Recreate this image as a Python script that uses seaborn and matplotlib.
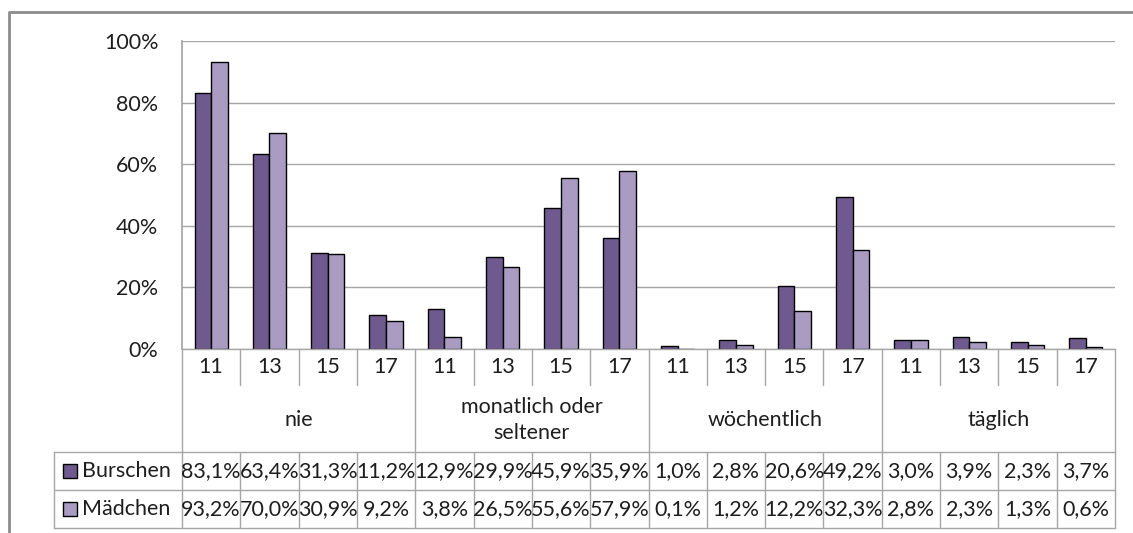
import matplotlib
matplotlib.use("Agg")
import matplotlib.pyplot as plt
import pandas as pd
import seaborn as sns
from matplotlib.lines import Line2D
from matplotlib.patches import Rectangle

# data
groups = ["nie", "monatlich oder\nseltener", "wöchentlich", "täglich"]
ages = ["11", "13", "15", "17"]
series = ["Burschen", "Mädchen"]
burschen = [83.1, 63.4, 31.3, 11.2, 12.9, 29.9, 45.9, 35.9,
            1.0, 2.8, 20.6, 49.2, 3.0, 3.9, 2.3, 3.7]
maedchen = [93.2, 70.0, 30.9, 9.2, 3.8, 26.5, 55.6, 57.9,
            0.1, 1.2, 12.2, 32.3, 2.8, 2.3, 1.3, 0.6]
colors = ["#6e5a8e", "#a99bc1"]

W, H = 1133, 533
sns.set_theme(style="white")
plt.rcParams["font.family"] = ["Lato", "DejaVu Sans"]
TXT = "#1e1e1e"
GRID = "#a6a6a6"
FS = 15.5

cats = [f"{g}|{a}" for g in groups for a in ages]
df = pd.DataFrame({
    "cat": cats * 2,
    "gender": [series[0]] * len(cats) + [series[1]] * len(cats),
    "value": [v / 100 for v in burschen + maedchen],
})


def fx(px):
    return px / W


def fy(py):
    return 1 - py / H


fig = plt.figure(figsize=(W / 100, H / 100), dpi=100)
left, right, top, bottom = 182, 1115, 41, 349
ax = fig.add_axes([fx(left), fy(bottom), fx(right - left), (bottom - top) / H])

sns.barplot(data=df, x="cat", y="value", hue="gender", order=cats,
            hue_order=series, palette=colors, width=0.57, saturation=1,
            edgecolor="black", linewidth=1, legend=False, ax=ax)

ax.set_ylim(0, 1)
ax.set_xlim(-0.5, len(cats) - 0.5)
ax.set_yticks([0, 0.2, 0.4, 0.6, 0.8, 1.0])
ax.set_yticklabels(["0%", "20%", "40%", "60%", "80%", "100%"], fontsize=FS, color=TXT)
ax.tick_params(axis="y", length=0, pad=17)
ax.set_xticks([])
ax.set_xlabel("")
ax.set_ylabel("")
ax.yaxis.grid(True, color=GRID, linewidth=1)
ax.set_axisbelow(True)
for side in ["top", "right", "bottom"]:
    ax.spines[side].set_visible(False)
ax.spines["left"].set_color(GRID)

# category axis and data table drawn below the plot
n = len(cats)
cw = (right - left) / n
xs = [left + i * cw for i in range(n + 1)]
tick_bot, grp_bot, row1, row2 = 385, 452, 490, 528
tbl_left = 54


def hline(x0, x1, y, c=GRID):
    fig.add_artist(Line2D([fx(x0), fx(x1)], [fy(y), fy(y)], color=c, lw=1))


def vline(x, y0, y1, c=GRID):
    fig.add_artist(Line2D([fx(x), fx(x)], [fy(y0), fy(y1)], color=c, lw=1))


hline(left, right, bottom)
for i, x in enumerate(xs):
    if i % 4 == 0:
        vline(x, bottom, row2)
    else:
        vline(x, bottom, tick_bot)
        vline(x, grp_bot, row2)
vline(tbl_left, grp_bot, row2)
for y in (grp_bot, row1, row2):
    hline(tbl_left, right, y)

for i in range(n):
    cx = (xs[i] + xs[i + 1]) / 2
    fig.text(fx(cx), fy(367), ages[i % 4], ha="center", va="center",
             fontsize=FS, color=TXT)
for j, g in enumerate(groups):
    cx = (xs[4 * j] + xs[4 * j + 4]) / 2
    fig.text(fx(cx), fy(420), g, ha="center", va="center", fontsize=FS,
             color=TXT, linespacing=1.4)

for r, (name, vals, col) in enumerate(zip(series, [burschen, maedchen], colors)):
    y0 = [grp_bot, row1][r]
    cy = y0 + (row1 - grp_bot) / 2
    fig.add_artist(Rectangle((fx(63), fy(cy + 7)), fx(14), 14 / H,
                             facecolor=col, edgecolor="black", lw=1))
    fig.text(fx(82), fy(cy), name, ha="left", va="center", fontsize=FS, color=TXT)
    for i, v in enumerate(vals):
        cx = (xs[i] + xs[i + 1]) / 2
        fig.text(fx(cx), fy(cy), f"{v:.1f}%".replace(".", ","), ha="center",
                 va="center", fontsize=FS, color=TXT)

# outer chart border
fig.add_artist(Line2D([fx(9), fx(9), fx(W + 5)], [fy(H + 5), fy(12), fy(12)],
                      color="#8c8c8c", lw=2))

fig.savefig("out.png", dpi=100)
